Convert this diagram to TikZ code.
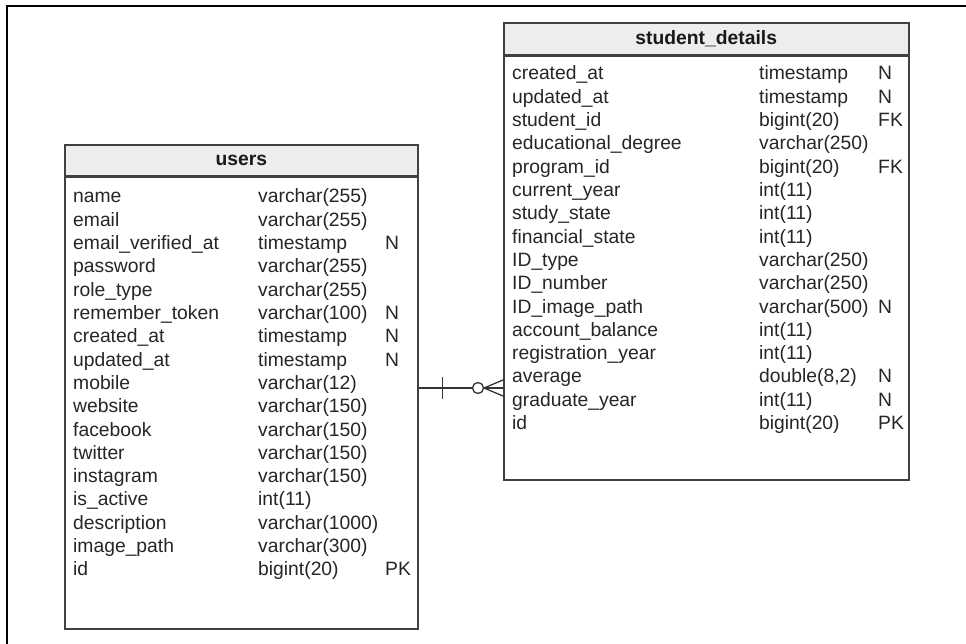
\documentclass[tikz,border=0pt]{standalone}
\usepackage{fontspec}
\setmainfont{Liberation Sans}
\begin{document}
\begin{tikzpicture}[x=1pt,y=-1pt]
    \tikzset{
      thead/.style={draw=black!75,line width=1.5pt,fill=black!7,inner sep=0pt,
        font=\bfseries\fontsize{19.3}{23}\selectfont,text=black!90,text height=14pt,text depth=4pt},
      tbody/.style={draw=black!75,line width=1.5pt,fill=white,inner sep=0pt},
      field/.style={anchor=base west,inner sep=0pt,font=\fontsize{19.3}{23}\selectfont,text=black!85},
      conn/.style={black!80,line width=1.3pt}
    }
    \useasboundingbox (0,0) rectangle (966,644);
        %FRAME
        \draw[black,line width=2pt] (7,644) -- (7,6.5) -- (966,6.5);

        %TABLE USERS
        \node[tbody,minimum width=353pt,minimum height=451pt,anchor=north west] (users) at (64,177) {};
        \node[thead,minimum width=353pt,minimum height=31pt,anchor=south west] (users-head) at (64,177) {users};
        \foreach \f/\t/\k [count=\i from 0] in {
          name/varchar(255)/{}, email/varchar(255)/{}, email\_verified\_at/timestamp/N,
          password/varchar(255)/{}, role\_type/varchar(255)/{}, remember\_token/varchar(100)/N,
          created\_at/timestamp/N, updated\_at/timestamp/N, mobile/varchar(12)/{},
          website/varchar(150)/{}, facebook/varchar(150)/{}, twitter/varchar(150)/{},
          instagram/varchar(150)/{}, is\_active/int(11)/{}, description/varchar(1000)/{},
          image\_path/varchar(300)/{}, id/bigint(20)/PK}
        {
          \node[field] (u-f-\i) at (73,{203+23.3*\i}) {\f};
          \node[field] (u-t-\i) at (258,{203+23.3*\i}) {\t};
          \node[field] (u-k-\i) at (385,{203+23.3*\i}) {\k};
        }

        %TABLE STUDENT_DETAILS
        \node[tbody,minimum width=405pt,minimum height=423pt,anchor=north west] (stud) at (503,56) {};
        \node[thead,minimum width=405pt,minimum height=32pt,anchor=south west] (stud-head) at (503,56) {student\_details};
        \foreach \f/\t/\k [count=\i from 0] in {
          created\_at/timestamp/N, updated\_at/timestamp/N, student\_id/bigint(20)/FK,
          educational\_degree/varchar(250)/{}, program\_id/bigint(20)/FK, current\_year/int(11)/{},
          study\_state/int(11)/{}, financial\_state/int(11)/{}, ID\_type/varchar(250)/{},
          ID\_number/varchar(250)/{}, ID\_image\_path/varchar(500)/N, account\_balance/int(11)/{},
          registration\_year/int(11)/{}, average/{double(8,2)}/N, graduate\_year/int(11)/N,
          id/bigint(20)/PK}
        {
          \node[field] (s-f-\i) at (512,{80+23.3*\i}) {\f};
          \node[field] (s-t-\i) at (759,{80+23.3*\i}) {\t};
          \node[field] (s-k-\i) at (878,{80+23.3*\i}) {\k};
        }

        %RELATION one -- zero or many
        \coordinate (rel-y) at (0,388);
        \coordinate (one-end) at (users.east |- rel-y);
        \coordinate (many-end) at (stud.west |- rel-y);
        \draw[conn] (one-end) -- (many-end);
        \draw[conn] ([xshift=24pt,yshift=11pt]one-end) -- ([xshift=24pt,yshift=-11pt]one-end);
        \draw[conn] ([xshift=-19pt]many-end) -- ([yshift=8pt]many-end)
          ([xshift=-19pt]many-end) -- ([yshift=-8pt]many-end);
        \draw[conn,fill=white] ([xshift=-25pt]many-end) circle (5.5pt);
\end{tikzpicture}
\end{document}
